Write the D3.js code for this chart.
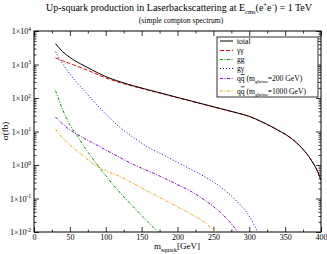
<!DOCTYPE html>
<html>
<head>
<meta charset="utf-8">
<script src="https://cdn.jsdelivr.net/npm/d3@7"></script>
<style>
  body { margin: 0; background: #fff; }
  svg { display: block; font-family: "Liberation Serif", "DejaVu Serif", serif; }
</style>
</head>
<body>
<svg id="chart" width="327" height="254"></svg>
<script>
// cross sections in fb (m_squark in GeV)
const mass = [30, 40, 50, 60, 70, 80, 100, 120, 140, 160, 180, 200, 220, 240, 260, 280, 300, 320, 340, 360, 370, 380, 390, 395, 400];
const total = [4200, 2400, 1630, 1190, 920, 705, 435, 305, 227, 174, 135, 104, 80.5, 62.3, 48.2, 37.4, 28.3, 18.3, 11.0, 5.9, 3.8, 2.19, 1.05, 0.66, 0.355];
const gammaGamma = [1585, 1288, 1072, 891, 741, 603, 398, 288, 219, 170, 132, 102, 79.4, 61.7, 47.9, 37.2, 28.2, 18.2, 11.0, 5.9, 3.8, 2.19, 1.05, 0.66, 0.355];
const gluonGluon = [166, 44.7, 15.8, 7.6, 3.5, 1.74, 0.48, 0.148, 0.052, 0.019, 0.0071, null, null, null, null, null, null, null, null, null, null, null, null, null, null];
const gluonGamma = [2400, 1050, 525, 282, 166, 95, 33, 13.2, 6.3, 3.3, 2.0, 1.2, 0.72, 0.42, 0.22, 0.095, 0.030, 0.004, null, null, null, null, null, null, null];
const qqbar200 = [27, 16.6, 11.2, 8.3, 6.2, 4.8, 2.8, 1.66, 1.0, 0.65, 0.42, 0.26, 0.158, 0.083, 0.038, 0.013, 0.003, null, null, null, null, null, null, null, null];
const qqbar1000 = [11.7, 6.3, 4.0, 2.6, 1.78, 1.17, 0.68, 0.45, 0.27, 0.158, 0.095, 0.056, 0.033, 0.018, 0.006, null, null, null, null, null, null, null, null, null, null];

const xTicks = [0, 50, 100, 150, 200, 250, 300, 350, 400];
const yTicks = [1e-2, 1e-1, 1e0, 1e1, 1e2, 1e3, 1e4];

const series = [
  { label: [["total"]], values: total, color: "#000000", dash: null },
  { label: [["γγ"]], values: gammaGamma, color: "#ff0000", dash: "4,2" },
  { label: [["gg"]], values: gluonGluon, color: "#00a000", dash: "3,1.5,1,1.5" },
  { label: [["gγ"]], values: gluonGamma, color: "#0000ff", dash: "1,2" },
  { label: [["q"], ["q", "bar"], [" (m"], ["gluino", "sub"], ["=200 GeV)"]], values: qqbar200, color: "#9400d3", dash: "3,1.5,1,1.5" },
  { label: [["q"], ["q", "bar"], [" (m"], ["gluino", "sub"], ["=1000 GeV)"]], values: qqbar1000, color: "#ffa500", dash: "3,1.5,1,1.5" }
];

const config = {
  left: 34,
  right: 321,
  top: 31,
  bottom: 232,
  majorTick: 5,
  minorTick: 2.5
};

const svg = d3.select("#chart");

const x = d3.scaleLinear().domain([0, 400]).range([config.left, config.right]);
const y = d3.scaleLog().domain([1e-2, 1e4]).range([config.bottom, config.top]);

// text with sub/superscripts, size = main font size in px
const richText = (sel, parts, size, small) => {
  let shift = 0;
  parts.forEach(([t, kind]) => {
    const target = kind === "sub" ? 0.3 * size : kind === "sup" ? -0.42 * size : 0;
    const ts = sel.append("tspan").text(t);
    if (target !== shift) ts.attr("dy", target - shift);
    shift = target;
    if (kind === "sub" || kind === "sup") ts.attr("font-size", small);
    if (kind === "bar") ts.style("text-decoration", "overline");
  });
};

// minor ticks
const xMinor = d3.range(25, 400, 50);
const yMinor = [];
for (let e = -2; e < 4; e++) for (let k = 2; k <= 9; k++) yMinor.push(k * Math.pow(10, e));

const addAxis = (gen, tr) => {
  const g = svg.append("g").attr("transform", tr).call(gen);
  g.select(".domain").remove();
  g.selectAll("line").attr("stroke", "#000").attr("stroke-width", 0.8);
  return g;
};

const atBottom = `translate(0,${config.bottom})`;
const atTop = `translate(0,${config.top})`;
const atLeft = `translate(${config.left},0)`;
const atRight = `translate(${config.right},0)`;

const xAxis = addAxis(d3.axisBottom(x).tickValues(xTicks).tickSizeInner(-config.majorTick).tickSizeOuter(0).tickPadding(2.5), atBottom);
xAxis.selectAll("text").attr("font-size", 8).attr("font-family", "Liberation Serif").attr("fill", "#000");
addAxis(d3.axisBottom(x).tickValues(xMinor).tickSize(-config.minorTick).tickFormat(""), atBottom);
addAxis(d3.axisTop(x).tickValues(xTicks).tickSize(-config.majorTick).tickFormat(""), atTop);
addAxis(d3.axisTop(x).tickValues(xMinor).tickSize(-config.minorTick).tickFormat(""), atTop);

const yAxis = addAxis(d3.axisLeft(y).tickValues(yTicks).tickSizeInner(-config.majorTick).tickSizeOuter(0).tickPadding(3).tickFormat(""), atLeft);
yAxis.selectAll(".tick text").each(function(d) {
  const t = d3.select(this).attr("font-size", 8).attr("font-family", "Liberation Serif").attr("fill", "#000").attr("dy", "0.35em");
  richText(t, [["1×10"], [String(Math.round(Math.log10(d))), "sup"]], 8, 5.5);
});
addAxis(d3.axisLeft(y).tickValues(yMinor).tickSize(-config.minorTick).tickFormat(""), atLeft);
addAxis(d3.axisRight(y).tickValues(yTicks).tickSize(-config.majorTick).tickFormat(""), atRight);
addAxis(d3.axisRight(y).tickValues(yMinor).tickSize(-config.minorTick).tickFormat(""), atRight);

// frame
svg.append("rect")
  .attr("x", config.left).attr("y", config.top)
  .attr("width", config.right - config.left).attr("height", config.bottom - config.top)
  .attr("fill", "none").attr("stroke", "#000").attr("stroke-width", 1);

// curves
svg.append("clipPath").attr("id", "plot")
  .append("rect")
  .attr("x", config.left).attr("y", config.top)
  .attr("width", config.right - config.left).attr("height", config.bottom - config.top);

const line = d3.line()
  .defined(d => d[1] != null)
  .x(d => x(d[0]))
  .y(d => y(d[1]))
  .curve(d3.curveMonotoneX);

svg.append("g").attr("clip-path", "url(#plot)")
  .selectAll("path")
  .data(series.slice().reverse())
  .join("path")
  .attr("d", s => line(mass.map((m, i) => [m, s.values[i]])))
  .attr("fill", "none")
  .attr("stroke", s => s.color)
  .attr("stroke-width", 1)
  .attr("stroke-dasharray", s => s.dash);

// legend
const legendRows = [41, 50.5, 59.5, 68.5, 78.5, 91];
const legend = svg.append("g");
legend.append("rect")
  .attr("x", 217).attr("y", 37).attr("width", 101).attr("height", 60)
  .attr("fill", "#fff").attr("stroke", "#000").attr("stroke-width", 0.8);

series.forEach((s, i) => {
  legend.append("line")
    .attr("x1", 220).attr("x2", 233)
    .attr("y1", legendRows[i]).attr("y2", legendRows[i])
    .attr("stroke", s.color).attr("stroke-width", 1)
    .attr("stroke-dasharray", s.dash);
  const t = legend.append("text")
    .attr("x", 237).attr("y", legendRows[i]).attr("dy", "0.33em")
    .attr("font-size", 7.6);
  richText(t, s.label, 7.6, 5);
});

// titles
const title = svg.append("text")
  .attr("x", 179).attr("y", 11).attr("text-anchor", "middle").attr("font-size", 10);
richText(title, [["Up-squark production in Laserbackscattering at E"], ["cms", "sub"], ["(e"], ["+", "sup"], ["e"], ["-", "sup"], [") = 1 TeV"]], 10, 6.5);

svg.append("text")
  .attr("x", 181).attr("y", 22.5).attr("text-anchor", "middle").attr("font-size", 7.7)
  .text("(simple compton spectrum)");

const xLabel = svg.append("text")
  .attr("x", 177).attr("y", 249).attr("text-anchor", "middle").attr("font-size", 9);
richText(xLabel, [["m"], ["squark", "sub"], ["[GeV]"]], 9, 6);

svg.append("text")
  .attr("transform", "translate(8,131) rotate(-90)")
  .attr("text-anchor", "middle").attr("font-size", 9)
  .text("σ(fb)");
</script>
</body>
</html>
